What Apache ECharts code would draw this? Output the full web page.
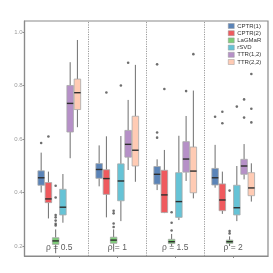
<!DOCTYPE html>
<html><head><meta charset="utf-8">
<script src="https://cdn.jsdelivr.net/npm/echarts@6/dist/echarts.min.js"></script>
<style>html,body{margin:0;padding:0;background:#fff}#c{width:273px;height:273px}</style>
</head><body><div id="c"></div>
<script>
var methods = ['CPTR(1)','CPTR(2)','LaGMaR','rSVD','TTR(1,2)','TTR(2,2)'];
var colors = ['#5b84b8','#ef5a5e','#7dcd78','#66c3d6','#b690c8','#ffcbb4'];
var groupLabels = ['ρ = 0.5','ρ = 1','ρ = 1.5','ρ = 2'];
var yTicks = [0.2,0.4,0.6,0.8,1.0];
// [low, q1, median, q3, high] per group
var CPTR1 = [[0.400,0.427,0.455,0.481,0.549],[0.423,0.453,0.486,0.508,0.576],[0.409,0.431,0.468,0.497,0.524],[0.418,0.428,0.455,0.490,0.578]];
var CPTR2 = [[0.303,0.362,0.376,0.437,0.478],[0.307,0.393,0.452,0.485,0.610],[0.323,0.325,0.391,0.483,0.559],[0.320,0.332,0.372,0.432,0.478]];
var LaGMaR = [[0.173,0.206,0.219,0.231,0.262],[0.179,0.210,0.222,0.233,0.262],[0.199,0.209,0.216,0.225,0.245],[0.200,0.210,0.216,0.222,0.236]];
var rSVD = [[0.287,0.316,0.345,0.412,0.469],[0.293,0.369,0.443,0.507,0.611],[0.297,0.307,0.366,0.474,0.612],[0.293,0.316,0.343,0.427,0.499]];
var TTR12 = [[0.528,0.626,0.733,0.800,0.887],[0.484,0.532,0.580,0.632,0.746],[0.443,0.476,0.525,0.590,0.686],[0.449,0.468,0.499,0.524,0.581]];
var TTR22 = [[0.644,0.710,0.773,0.824,0.970],[0.440,0.499,0.558,0.685,0.877],[0.378,0.399,0.480,0.570,0.781],[0.366,0.388,0.417,0.474,0.509]];
// outliers: [group (1..4), value]
var CPTR1_out = [[1,0.585],[3,0.879],[3,0.624],[3,0.605],[4,0.683]];
var CPTR2_out = [[1,0.609],[2,0.774],[3,0.787],[4,0.702],[4,0.659]];
var LaGMaR_out = [[1,0.425],[1,0.381],[1,0.316],[1,0.307],[1,0.295],[1,0.283],[1,0.277],[2,0.332],[2,0.322],[2,0.284],[2,0.271],[3,0.326],[3,0.287],[3,0.258],[4,0.407],[4,0.256],[4,0.247]];
var rSVD_out = [[2,0.800],[4,0.721]];
var TTR12_out = [[2,0.885],[3,0.779],[4,0.748],[4,0.680]];
var TTR22_out = [[3,0.917],[4,0.843],[4,0.713],[4,0.662]];

var stats = [CPTR1,CPTR2,LaGMaR,rSVD,TTR12,TTR22];
var outs = [CPTR1_out,CPTR2_out,LaGMaR_out,rSVD_out,TTR12_out,TTR22_out];
var DODGE = 0.75, N = methods.length, SLOT = DODGE / N, BOXW = SLOT * 0.9;
function offset(k){ return (k - (N - 1) / 2) * SLOT; }

var series = [];
methods.forEach(function(name, k){
  var data = stats[k].map(function(s, g){ return [g + 1].concat(s); });
  series.push({
    type: 'custom', name: name, z: 3,
    itemStyle: { color: colors[k] },
    encode: { x: 0, y: [1,2,3,4,5] },
    data: data,
    renderItem: function(params, api){
      var g = api.value(0);
      var xc = api.coord([g + offset(k), 0])[0];
      var w = api.size([BOXW, 0])[0];
      var yLo = api.coord([g, api.value(1)])[1];
      var yQ1 = api.coord([g, api.value(2)])[1];
      var yMd = api.coord([g, api.value(3)])[1];
      var yQ3 = api.coord([g, api.value(4)])[1];
      var yHi = api.coord([g, api.value(5)])[1];
      var wl = {stroke: '#6e6e6e', lineWidth: 1};
      return { type: 'group', children: [
        { type: 'line', shape: {x1: xc, y1: yHi, x2: xc, y2: yQ3}, style: wl },
        { type: 'line', shape: {x1: xc, y1: yQ1, x2: xc, y2: yLo}, style: wl },
        { type: 'rect', shape: {x: xc - w/2, y: yQ3, width: w, height: yQ1 - yQ3},
          style: {fill: colors[k], stroke: '#a8a8a8', lineWidth: 0.8} },
        { type: 'line', shape: {x1: xc - w/2, y1: yMd, x2: xc + w/2, y2: yMd},
          style: {stroke: '#2e2e2e', lineWidth: 1.4} }
      ]};
    }
  });
  series.push({
    type: 'scatter', name: name + ' outliers', z: 4, silent: true,
    symbolSize: 2.6, itemStyle: { color: '#4a4a4a' },
    data: outs[k].map(function(o){ return [o[0] + offset(k), o[1]]; })
  });
});
series.push({
  type: 'scatter', name: 'labels', z: 6, silent: true, symbolSize: 0,
  data: groupLabels.map(function(t, i){ return {value: [i + 1, 0.193], name: t}; }),
  label: { show: true, position: 'inside', formatter: '{b}', fontSize: 8.5,
           fontFamily: 'Liberation Sans, Arial, sans-serif', color: '#333' },
  markLine: { silent: true, symbol: 'none', label: {show: false},
    lineStyle: { color: '#9a9a9a', type: [1.2, 1.2], width: 1 },
    data: [{xAxis: 1.5}, {xAxis: 2.5}, {xAxis: 3.5}] }
});

var chart = echarts.init(document.getElementById('c'), null, {renderer: 'canvas'});
chart.setOption({
  animation: false,
  backgroundColor: '#fff',
  grid: { left: 24.5, right: 5, top: 21, bottom: 17, show: true, borderColor: '#8a8a8a', borderWidth: 1.2, backgroundColor: 'transparent' },
  legend: {
    data: methods, left: 228, top: 23, orient: 'vertical',
    icon: 'rect', itemWidth: 6, itemHeight: 5, itemGap: 1.2, padding: 0,
    itemStyle: { borderColor: '#999', borderWidth: 0.5 },
    textStyle: { fontSize: 6, color: '#333', fontFamily: 'Liberation Sans, Arial, sans-serif', padding: [0,0,0,-2] }
  },
  xAxis: {
    type: 'value', min: 0.4, max: 4.6,
    axisLine: { show: true, lineStyle: { color: '#8a8a8a', width: 1.2 } },
    axisTick: { show: true, customValues: [1,2,3,4], length: 2, lineStyle: { color: '#8a8a8a' } },
    axisLabel: { show: false },
    splitLine: { show: false }
  },
  yAxis: {
    type: 'value', min: 0.1626, max: 1.041,
    axisLine: { show: true, lineStyle: { color: '#8a8a8a', width: 1.2 } },
    axisTick: { show: true, customValues: yTicks, length: 2, lineStyle: { color: '#8a8a8a' } },
    axisLabel: { show: true, customValues: yTicks, fontSize: 6, color: '#9a9a9a', margin: 2,
                 fontFamily: 'Liberation Sans, Arial, sans-serif',
                 formatter: function(v){ return v.toFixed(1); } },
    splitLine: { show: false }
  },
  series: series
});
</script></body></html>
